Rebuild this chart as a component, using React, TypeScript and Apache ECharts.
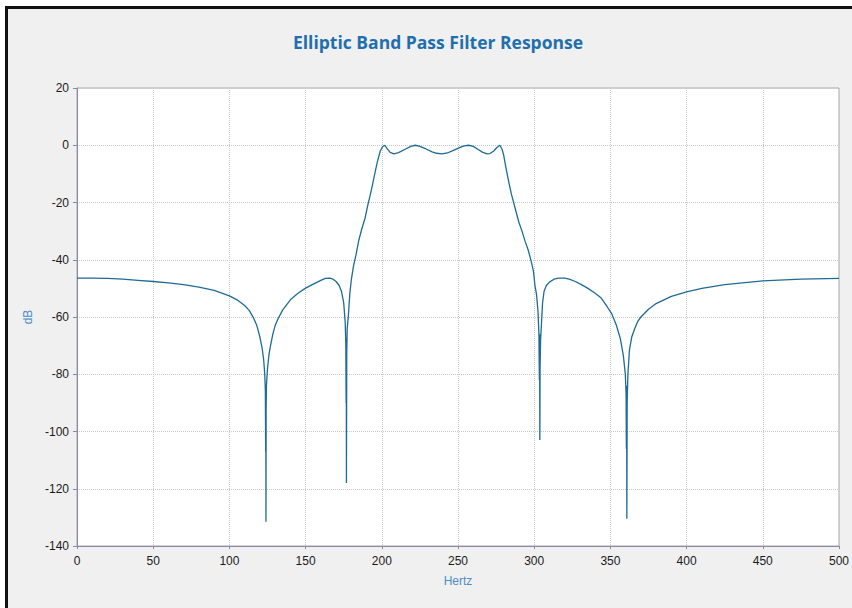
import React, { useEffect, useRef } from "react";
import * as echarts from "echarts";

const chartTitle = "Elliptic Band Pass Filter Response";
const xAxisName = "Hertz";
const yAxisName = "dB";

// Frequency (Hz) and magnitude response (dB)
const freqHz: number[] = [
  0, 10, 20, 30, 40, 50, 60, 70, 80, 90, 100, 105, 110, 113, 116, 118, 120, 121.5, 122.5, 123.2, 123.6,
  123.8, 123.9, 124.0, 124.1, 124.3, 125, 126, 127, 128.5, 130, 132, 135, 140, 145, 150, 155, 160, 163,
  166, 168, 170, 172, 173.5, 175, 176, 176.4, 176.6, 176.7, 176.8, 177.0, 177.3, 178, 179, 180, 181.5,
  183, 185, 187, 189, 191, 193, 195, 197, 199, 200.5, 202, 203.5, 205.5, 208, 211, 215, 219, 222, 225,
  229, 233, 236, 239.5, 243, 247, 251, 254, 257, 260, 263, 266, 269, 271, 273.5, 275.5, 277.5, 279, 280,
  281.5, 283, 285, 287.5, 290, 292, 294, 296, 298, 299.5, 300.5, 301.5, 302.5, 303.1, 303.4, 303.55,
  303.7, 303.85, 304.2, 304.8, 305.5, 306.5, 308, 310, 313, 316, 320, 323, 327, 331, 335, 340, 344, 348,
  351, 354, 356.5, 358.5, 359.8, 360.3, 360.5, 360.65, 360.8, 361.0, 361.5, 362.5, 364, 366, 368, 370,
  375, 380, 390, 400, 410, 425, 450, 475, 500,
];
const magnitudeDb: number[] = [
  -46.4, -46.4, -46.5, -46.8, -47.2, -47.6, -48.1, -48.7, -49.6, -50.7, -52.6, -54, -56, -57.7, -60.5,
  -63, -67, -71, -75, -80, -86,
  -107, -88, -131.5, -92, -84, -78, -73, -70, -66, -63, -60.5, -57.5, -54, -51.7, -49.9, -48.5, -47.2,
  -46.5, -46.4, -46.8, -47.6, -49, -51, -55, -62, -70, -90, -74, -118, -73, -64, -60, -52, -47, -42,
  -38.5, -33, -29, -25.5, -20.5, -16, -11, -6, -2, -0.5, 0, -1.2, -2.5, -3, -2.6, -1.5, -0.4, 0, -0.4,
  -1.3, -2.3, -2.8, -3, -2.7, -1.8, -0.8, -0.2, 0, -0.4, -1.4, -2.4, -3, -2.9, -2, -0.8, 0, -1.5, -3.5,
  -8, -12, -17, -22, -27, -30, -33.5, -36.5, -40.5, -44, -49, -52, -58, -66, -82, -66,
  -103, -78, -68, -62, -55, -51, -49, -47.8, -46.8, -46.4, -46.4, -46.8, -47.6, -48.7, -49.9, -51.7,
  -53.4, -56.5, -59, -63, -67.5, -73.5, -80, -87, -106, -84, -130.5, -90, -80, -71.5, -67, -64, -61.5,
  -60, -57.3, -55.3, -52.8, -51.2, -50, -48.7, -47.4, -46.8, -46.5,
];

const xTicks = { min: 0, max: 500, interval: 50 };
const yTicks = { min: -140, max: 20, interval: 20 };

export default function App() {
  const ref = useRef<HTMLDivElement>(null);
  useEffect(() => {
    if (!ref.current) return;
    const chart = echarts.init(ref.current, undefined, { renderer: "svg" });
    const data = freqHz.map((f, i) => [f, magnitudeDb[i]]);
    const labelStyle = { color: "#1a1a1a", fontFamily: "Liberation Sans", fontSize: 12 };
    const nameStyle = { color: "#4a8ec4", fontFamily: "Liberation Sans", fontSize: 12 };
    chart.setOption({
      animation: false,
      backgroundColor: "#f0f0f0",
      title: {
        text: chartTitle,
        left: 433,
        top: 28,
        textAlign: "center",
        textStyle: { color: "#1f6fae", fontFamily: "Open Sans", fontWeight: 700, fontSize: 17.5 },
      },
      graphic: [
        { type: "rect", left: 0, top: 0, shape: { width: 5, height: 608 }, style: { fill: "#ffffff" }, silent: true },
        { type: "rect", left: 0, top: 0, shape: { width: 852, height: 6 }, style: { fill: "#ffffff" }, silent: true },
        { type: "rect", left: 5, top: 6, shape: { width: 3, height: 602 }, style: { fill: "#111111" }, silent: true },
        { type: "rect", left: 5, top: 6, shape: { width: 847, height: 3 }, style: { fill: "#111111" }, silent: true },
      ],
      grid: {
        left: 77,
        right: 10,
        top: 88,
        bottom: 62,
        show: true,
        backgroundColor: "#ffffff",
        borderColor: "#a8a8a8",
        borderWidth: 1,
      },
      xAxis: {
        type: "value",
        min: xTicks.min,
        max: xTicks.max,
        interval: xTicks.interval,
        name: xAxisName,
        nameLocation: "middle",
        nameGap: 29,
        nameTextStyle: nameStyle,
        axisLine: { show: true, onZero: false, lineStyle: { color: "#8e86a6", width: 1 } },
        axisTick: { show: true, length: 3, lineStyle: { color: "#8e86a6" } },
        axisLabel: { ...labelStyle, margin: 9 },
        splitLine: { show: true, lineStyle: { color: "#c9c9c9", type: "dotted", width: 1 } },
      },
      yAxis: {
        type: "value",
        min: yTicks.min,
        max: yTicks.max,
        interval: yTicks.interval,
        name: yAxisName,
        nameLocation: "middle",
        nameGap: 38,
        nameRotate: 90,
        nameTextStyle: nameStyle,
        axisLine: { show: true, onZero: false, lineStyle: { color: "#8e86a6", width: 1 } },
        axisTick: { show: true, length: 4, lineStyle: { color: "#8e86a6" } },
        axisLabel: { ...labelStyle, margin: 8 },
        splitLine: { show: true, lineStyle: { color: "#c9c9c9", type: "dotted", width: 1 } },
      },
      series: [
        {
          type: "line",
          data,
          showSymbol: false,
          symbol: "none",
          smooth: false,
          lineStyle: { color: "#1e6b95", width: 1.3 },
        },
      ],
    });
    return () => chart.dispose();
  }, []);
  return (
    <div style={{ position: "fixed", left: 0, top: 0, width: 852, height: 608 }}>
      <div ref={ref} style={{ width: 852, height: 608 }} />
    </div>
  );
}
